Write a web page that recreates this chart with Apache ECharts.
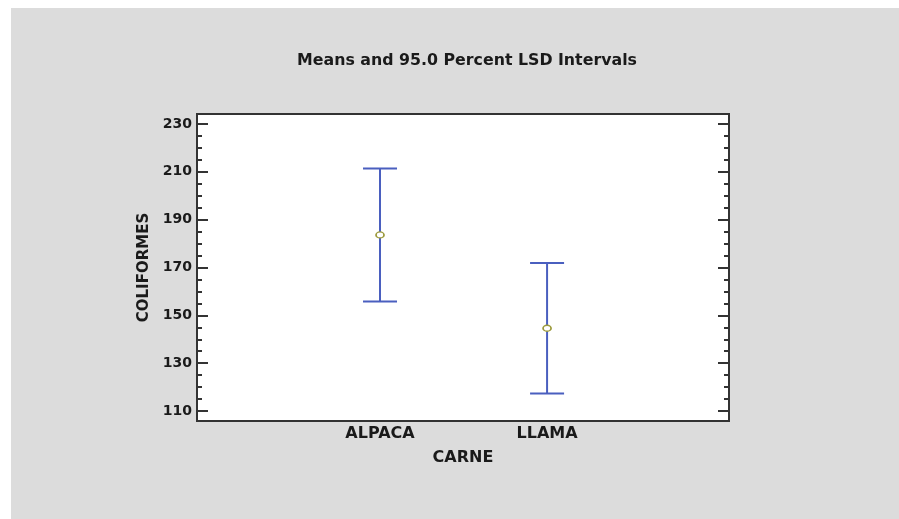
<!DOCTYPE html>
<html>
<head>
<meta charset="utf-8">
<script src="https://cdn.jsdelivr.net/npm/echarts@6/dist/echarts.min.js"></script>
<style>
  html, body { margin: 0; padding: 0; background: #ffffff; }
  #chart { position: absolute; left: 11px; top: 8px; width: 888px; height: 511px; background: #dcdcdc; }
</style>
</head>
<body>
<div id="chart"></div>
<script>
// Group names and LSD interval statistics for coliform counts
const categories = ['ALPACA', 'LLAMA'];
const means = [183.6, 144.6];
const lowerLimits = [155.8, 117.3];
const upperLimits = [211.4, 171.9];
const yTicks = [110, 130, 150, 170, 190, 210, 230];

const chart = echarts.init(document.getElementById('chart'), null, { renderer: 'canvas' });

// groups placed at x = 1, 2 on a value axis
const barData = categories.map((c, i) => [i + 1, lowerLimits[i], upperLimits[i]]);
const meanData = categories.map((c, i) => [i + 1, means[i]]);

const font = { fontFamily: 'DejaVu Sans, sans-serif', fontWeight: 'bold', color: '#1a1a1a' };
const tickStyle = { color: '#333', width: 2 };
const hiddenAxis = { show: false };

chart.setOption({
  animation: false,
  backgroundColor: '#dcdcdc',
  title: {
    text: 'Means and 95.0 Percent LSD Intervals',
    left: 451, top: 40, textAlign: 'center',
    textStyle: Object.assign({ fontSize: 15.8 }, font)
  },
  grid: [
    // outer frame of the plotting area
    { left: 186, top: 106, right: 170, bottom: 98, show: true,
      backgroundColor: '#ffffff', borderColor: '#333', borderWidth: 2, z: 0 },
    // data area spanning the 110..230 tick range
    { left: 186, top: 116, right: 170, bottom: 108, show: false }
  ],
  xAxis: [
    Object.assign({ gridIndex: 0, type: 'value' }, hiddenAxis),
    {
      gridIndex: 1, type: 'value', min: -0.0955, max: 3.089,
      name: 'CARNE', nameLocation: 'middle', nameGap: 39,
      nameTextStyle: Object.assign({ fontSize: 16 }, font),
      axisLine: { show: false }, axisTick: { show: false }, splitLine: { show: false },
      axisLabel: Object.assign({
        customValues: categories.map((c, i) => i + 1),
        formatter: v => categories[Math.round(v) - 1] || '',
        fontSize: 16, margin: 15
      }, font)
    }
  ],
  yAxis: [
    Object.assign({ gridIndex: 0, type: 'value' }, hiddenAxis),
    {
      gridIndex: 1, type: 'value', min: 110, max: 230, interval: 20,
      name: 'COLIFORMES', nameLocation: 'middle', nameGap: 45,
      nameTextStyle: Object.assign({ fontSize: 15 }, font),
      axisLine: { show: false, onZero: false }, splitLine: { show: false },
      axisTick: { inside: true, length: 11, lineStyle: tickStyle },
      minorTick: { show: true, splitNumber: 4, length: 5, lineStyle: tickStyle },
      axisLabel: Object.assign({ fontSize: 14, margin: 5 }, font)
    },
    {
      gridIndex: 1, type: 'value', position: 'right', min: 110, max: 230, interval: 20,
      axisLine: { show: false, onZero: false }, splitLine: { show: false },
      axisTick: { inside: true, length: 11, lineStyle: tickStyle },
      minorTick: { show: true, splitNumber: 4, length: 5, lineStyle: tickStyle },
      axisLabel: { show: false }
    }
  ],
  series: [{
    type: 'custom',
    xAxisIndex: 1, yAxisIndex: 1,
    data: barData,
    renderItem: (params, api) => {
      const x = api.value(0);
      const lo = api.coord([x, api.value(1)]);
      const hi = api.coord([x, api.value(2)]);
      const half = 17;
      const style = { stroke: '#4a5fbf', lineWidth: 2 };
      return {
        type: 'group',
        children: [
          { type: 'line', shape: { x1: lo[0], y1: lo[1], x2: hi[0], y2: hi[1] }, style },
          { type: 'line', shape: { x1: hi[0] - half, y1: hi[1], x2: hi[0] + half, y2: hi[1] }, style },
          { type: 'line', shape: { x1: lo[0] - half, y1: lo[1], x2: lo[0] + half, y2: lo[1] }, style }
        ]
      };
    }
  }, {
    type: 'scatter',
    xAxisIndex: 1, yAxisIndex: 1,
    data: meanData,
    symbol: 'circle', symbolSize: [8, 6],
    itemStyle: { color: '#ffffff', borderColor: '#9c9a3c', borderWidth: 1.5, opacity: 1 },
    z: 5
  }]
});
</script>
</body>
</html>
